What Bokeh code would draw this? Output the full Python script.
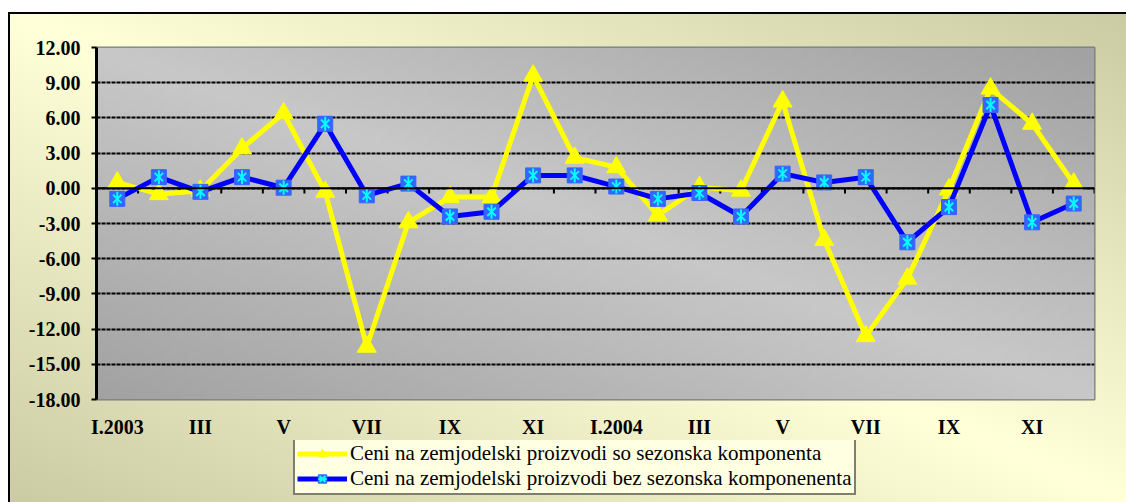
import numpy as np
from bokeh.plotting import figure
from bokeh.models import (Range1d, FixedTicker, NumeralTickFormatter, Span,
                          Legend, LegendItem, Spacer)
from bokeh.layouts import column, row
from bokeh.embed import file_html
from bokeh.resources import INLINE

# ---------------- data ----------------
months = ["I.2003", "II", "III", "IV", "V", "VI", "VII", "VIII", "IX", "X", "XI", "XII",
          "I.2004", "II", "III", "IV", "V", "VI", "VII", "VIII", "IX", "X", "XI", "XII"]
with_seasonal = [0.5, -0.5, -0.2, 3.4, 6.4, -0.3, -13.5, -2.9, -0.75, -0.75, 9.6, 2.6,
                 1.8, -2.3, 0.1, -0.2, 7.4, -4.4, -12.6, -7.7, -0.1, 8.5, 5.5, 0.4]
without_seasonal = [-0.9, 0.95, -0.3, 0.95, 0.05, 5.5, -0.6, 0.4, -2.4, -2.0, 1.1, 1.1,
                    0.15, -0.9, -0.4, -2.4, 1.25, 0.5, 0.95, -4.6, -1.6, 7.1, -2.9, -1.3]
y_ticks = [-18, -15, -12, -9, -6, -3, 0, 3, 6, 9, 12]
series_names = ["Ceni na zemjodelski proizvodi so sezonska komponenta",
                "Ceni na zemjodelski proizvodi bez sezonska komponenenta"]

n = len(months)
x = list(range(n))

YEL = "#FFFF00"
BLU = "#0000FF"
SQ = "#3366FF"
CYAN = "#00FFFF"

W_ALL = 1118
H_MAIN = 428
H_LEG = 62

p = figure(width=W_ALL, height=H_MAIN, output_backend="svg", toolbar_location=None,
           x_range=Range1d(-0.5, n - 0.5), y_range=Range1d(min(y_ticks), max(y_ticks)),
           min_border_left=88, min_border_right=32, min_border_top=35, min_border_bottom=40)
p.border_fill_color = None

# plot area gradient background
Hh, Ww = 60, 120
u = np.linspace(0, 1, Ww)[None, :]
v = np.linspace(0, 1, Hh)[:, None]
t = (u + v) / 2.0
g = (162 + (200 - 162) * (1 - np.abs(2 * t - 1))).astype(np.uint32)
img = (255 << 24) | (g << 16) | (g << 8) | g
p.image_rgba(image=[img], x=-0.5, y=min(y_ticks), dw=n, dh=max(y_ticks) - min(y_ticks), level="image")

p.outline_line_color = "#7A7A7A"
p.outline_line_width = 2

# grid
p.xgrid.visible = False
p.ygrid.ticker = FixedTicker(ticks=y_ticks)
p.ygrid.grid_line_color = "black"
p.ygrid.grid_line_width = 2
p.ygrid.grid_line_dash = "4 1"

# y axis
p.yaxis.ticker = FixedTicker(ticks=y_ticks)
p.yaxis.formatter = NumeralTickFormatter(format="0.00")
p.yaxis.axis_line_color = "black"
p.yaxis.axis_line_width = 3
p.yaxis.major_tick_line_color = "black"
p.yaxis.major_tick_line_width = 2
p.yaxis.major_tick_out = 5
p.yaxis.major_tick_in = 0
p.yaxis.minor_tick_line_color = None
p.yaxis.major_label_standoff = 11
p.yaxis.major_label_text_font = "Liberation Serif"
p.yaxis.major_label_text_font_style = "bold"
p.yaxis.major_label_text_font_size = "20px"
p.yaxis.major_label_text_color = "black"

# x axis (labels only)
xt = list(range(0, n, 2))
p.xaxis.ticker = FixedTicker(ticks=xt)
p.xaxis.major_label_overrides = {i: months[i] for i in xt}
p.xaxis.axis_line_color = None
p.xaxis.major_tick_line_color = None
p.xaxis.minor_tick_line_color = None
p.xaxis.major_tick_out = 0
p.xaxis.major_label_standoff = 16
p.xaxis.major_label_text_font = "Liberation Serif"
p.xaxis.major_label_text_font_style = "bold"
p.xaxis.major_label_text_font_size = "20px"
p.xaxis.major_label_text_color = "black"

# zero line with category ticks
p.add_layout(Span(location=0, dimension="width", line_color="black", line_width=2))
bounds = np.arange(n + 1) - 0.5
p.segment(x0=bounds, y0=np.zeros(n + 1), x1=bounds, y1=np.full(n + 1, -0.45),
          line_color="black", line_width=2)

# series
p.line(x, with_seasonal, line_color=YEL, line_width=5)
p.scatter(x, with_seasonal, marker="triangle", size=19, fill_color=YEL, line_color=YEL)
p.line(x, without_seasonal, line_color=BLU, line_width=5)
p.scatter(x, without_seasonal, marker="square", size=15, fill_color=SQ, line_color=SQ)
p.scatter(x, without_seasonal, marker="x", size=12, line_color=CYAN, line_width=2)
p.scatter(x, without_seasonal, marker="dash", size=14, angle=np.pi / 2, line_color=CYAN, line_width=2)

# ---------------- legend (separate strip below) ----------------
lf = figure(width=W_ALL, height=H_LEG, output_backend="svg", toolbar_location=None,
            x_range=Range1d(0, 1), y_range=Range1d(0, 1),
            x_axis_type=None, y_axis_type=None, min_border=0)
lf.border_fill_color = None
lf.background_fill_color = None
lf.outline_line_color = None
lf.grid.visible = False
nan = [np.nan]
r1 = lf.line(nan, nan, line_color=YEL, line_width=5)
r2 = lf.scatter(nan, nan, marker="triangle", size=19, fill_color=YEL, line_color=YEL)
r3 = lf.line(nan, nan, line_color=BLU, line_width=5)
r4 = lf.scatter(nan, nan, marker="square", size=15, fill_color=SQ, line_color=SQ)
r5 = lf.scatter(nan, nan, marker="x", size=12, line_color=CYAN, line_width=2)
r6 = lf.scatter(x=nan, y=nan, angle=[np.pi / 2], marker="dash", size=14, line_color=CYAN, line_width=2)

legend = Legend(items=[LegendItem(label=series_names[0], renderers=[r1, r2]),
                       LegendItem(label=series_names[1], renderers=[r3, r4, r5, r6])],
                location=(197, 7))
legend.label_text_font = "Liberation Serif"
legend.label_text_font_size = "21px"
legend.label_text_color = "black"
legend.label_height = 21
legend.glyph_height = 21
legend.glyph_width = 50
legend.label_standoff = 3
legend.spacing = 0
legend.padding = 2
legend.margin = 0
legend.border_line_color = "black"
legend.border_line_width = 2
legend.background_fill_color = "#FFFFE2"
legend.background_fill_alpha = 1.0
lf.add_layout(legend)

inner = column(p, lf, spacing=0)
inner.styles = {"background": "linear-gradient(to top right, #CBCBA3 0%, #FFFFD8 50%, #CBCBA3 100%)",
                "box-shadow": "inset 2px 2px 0 0 #000000"}

layout = row(Spacer(width=8, height=H_MAIN + H_LEG + 12),
             column(Spacer(width=W_ALL, height=12), inner, spacing=0), spacing=0)
open("out.html", "w").write(file_html(layout, INLINE))
